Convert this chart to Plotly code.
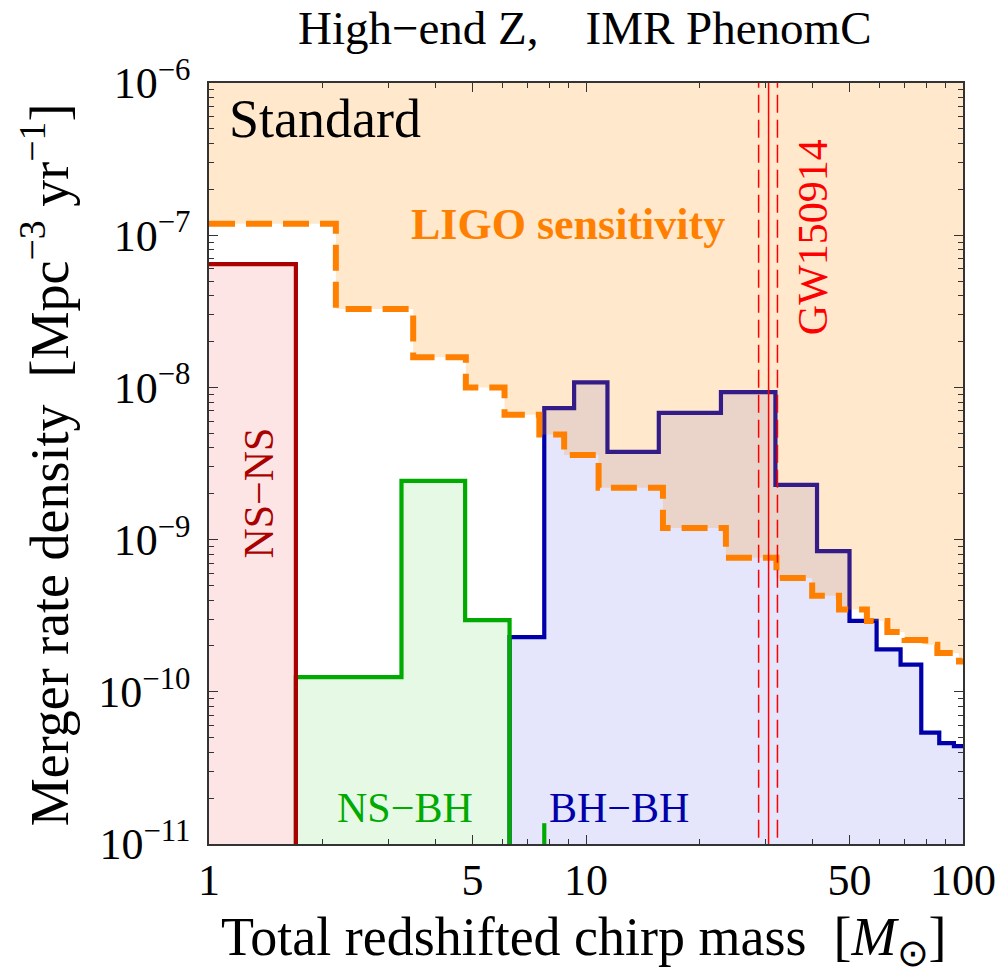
import plotly.graph_objects as go

# ---------------- data ----------------
nsns_edges = [1.0, 1.70]
nsns_values = [6.45e-8]

nsbh_edges = [1.70, 3.24, 4.78, 6.27]
nsbh_values = [1.25e-10, 2.43e-9, 2.96e-10]
nsbh_tail_edges = [7.75, 7.77]
nsbh_tail_values = [1.37e-11]

bbh_edges = [6.27, 7.75, 9.3, 11.4, 15.6, 22.8, 31.8, 41.0, 50.0, 59.0, 68.3, 77.5, 86.5, 94.6, 100.0]
bbh_values = [2.29e-10, 7.3e-9, 1.08e-8, 3.77e-9, 6.8e-9, 9.3e-9, 2.29e-9, 8.4e-10,
              2.92e-10, 1.9e-10, 1.51e-10, 5.4e-11, 4.6e-11, 4.4e-11]

ligo_edges = [1.0, 2.17, 3.48, 4.8, 6.08, 7.52, 8.75, 10.8, 16.0, 23.5, 32.0, 39.8, 46.9,
              55.6, 63.0, 70.0, 79.4, 85.5, 97.6, 100.0]
ligo_values = [1.19e-7, 3.27e-8, 1.58e-8, 1.0e-8, 6.6e-9, 4.9e-9, 3.6e-9, 2.19e-9, 1.19e-9,
               7.6e-10, 5.6e-10, 4.27e-10, 3.47e-10, 2.92e-10, 2.47e-10, 2.19e-10, 2.04e-10,
               1.8e-10, 1.58e-10]

gw_mass = 30.5
gw_mass_lo = 28.7
gw_mass_hi = 32.2

x_tickvals = [1, 5, 10, 50, 100]
x_ticktext = ["1", "5", "10", "50", "100"]
x_minor = [2, 3, 4, 6, 7, 8, 9, 20, 30, 40, 60, 70, 80, 90]
y_exps = [-6, -7, -8, -9, -10, -11]
y_tickvals = [10.0 ** e for e in y_exps]
y_ticktext = ["10<sup>\u2212%d</sup>" % (-e) for e in y_exps]
y_minor = [m * 10.0 ** e for e in range(-11, -6) for m in range(2, 10)]

YMIN, YMAX = 1e-11, 1e-6

# ---------------- helpers ----------------
def step_path(edges, values, start_bottom=True, end_bottom=True):
    xs, ys = [], []
    if start_bottom:
        xs.append(edges[0]); ys.append(YMIN)
    for i, v in enumerate(values):
        xs += [edges[i], edges[i + 1]]
        ys += [v, v]
    if end_bottom:
        xs.append(edges[-1]); ys.append(YMIN)
    return xs, ys

FONT = "Liberation Serif"

L, R, T, B = 209, 39, 83, 130
W, H = 1008, 974
PW, PH = W - L - R, H - T - B

def px(xp):
    return (xp - L) / PW

def py(yp):
    return (H - B - yp) / PH

fig = go.Figure()

# fills
for edges, values, col in [
    (bbh_edges, bbh_values, "rgba(0,0,220,0.10)"),
    (nsbh_edges, nsbh_values, "rgba(0,200,0,0.10)"),
    (nsns_edges, nsns_values, "rgba(240,0,0,0.10)"),
]:
    xs, ys = step_path(edges, values)
    fig.add_trace(go.Scatter(x=xs, y=ys, mode="lines", fill="toself", fillcolor=col,
                             line=dict(width=0), hoverinfo="skip", showlegend=False))

# outlines
xs, ys = step_path(bbh_edges, bbh_values, start_bottom=True, end_bottom=False)
fig.add_trace(go.Scatter(x=xs, y=ys, mode="lines", line=dict(color="#0000AA", width=4.2),
                         showlegend=False))
xs, ys = step_path(nsbh_edges, nsbh_values)
fig.add_trace(go.Scatter(x=xs, y=ys, mode="lines", line=dict(color="#00AA00", width=4.2),
                         showlegend=False))
fig.add_trace(go.Scatter(x=[nsbh_tail_edges[0], nsbh_tail_edges[0]], y=[YMIN, nsbh_tail_values[0]],
                         mode="lines", line=dict(color="#00AA00", width=4.2), showlegend=False))
xs, ys = step_path(nsns_edges, nsns_values, start_bottom=False, end_bottom=True)
fig.add_trace(go.Scatter(x=xs, y=ys, mode="lines", line=dict(color="#AA0000", width=4.2),
                         showlegend=False))

# LIGO sensitivity region
xs, ys = step_path(ligo_edges, ligo_values, start_bottom=False, end_bottom=False)
fig.add_trace(go.Scatter(x=xs + [ligo_edges[-1], ligo_edges[0]], y=ys + [YMAX, YMAX],
                         mode="lines", fill="toself", fillcolor="rgba(255,140,0,0.20)",
                         line=dict(width=0), hoverinfo="skip", showlegend=False))
fig.add_trace(go.Scatter(x=xs, y=ys, mode="lines",
                         line=dict(color="#FF8000", width=6, dash="26px,11px"),
                         showlegend=False))

# GW150914 lines
fig.add_trace(go.Scatter(x=[gw_mass, gw_mass], y=[YMIN, YMAX], mode="lines",
                         line=dict(color="#FF0000", width=1.5), showlegend=False))
for m in (gw_mass_lo, gw_mass_hi):
    fig.add_trace(go.Scatter(x=[m, m], y=[1.1e-11, YMAX], mode="lines",
                             line=dict(color="#FF0000", width=1.5, dash="18px,7px"),
                             showlegend=False))

# invisible trace attaching the minor-tick overlay axes
fig.add_trace(go.Scatter(x=[None], y=[None], xaxis="x2", yaxis="y2", mode="lines",
                         hoverinfo="skip", showlegend=False))

axis_common = dict(
    showline=True, linecolor="#333333", linewidth=1.5, mirror="allticks",
    ticks="inside", tickcolor="#333333",
    showgrid=False, zeroline=False, type="log",
    tickfont=dict(family=FONT, size=44, color="black"),
)

fig.update_layout(
    xaxis=dict(range=[0, 2], tickmode="array", tickvals=x_tickvals, ticktext=x_ticktext,
               ticklen=9, tickwidth=1.2, ticklabelstandoff=-4, **axis_common),
    yaxis=dict(range=[-11, -6], tickmode="array", tickvals=y_tickvals, ticktext=y_ticktext,
               ticklen=9, tickwidth=1.2, ticklabelstandoff=8, **axis_common),
    xaxis2=dict(range=[0, 2], overlaying="x", side="bottom", tickmode="array",
                tickvals=x_minor, ticklen=5, tickwidth=1, showticklabels=False,
                **axis_common),
    yaxis2=dict(range=[-11, -6], overlaying="y", side="left", tickmode="array",
                tickvals=y_minor, ticklen=5, tickwidth=1, showticklabels=False,
                **axis_common),
)

ann = []
def add_text(text, xp, yp, size, color="black", angle=0, xanchor="center", weight="normal"):
    ann.append(dict(text=text, x=px(xp), y=py(yp), xref="paper", yref="paper",
                    showarrow=False, textangle=angle, xanchor=xanchor, yanchor="middle",
                    font=dict(family=FONT, size=size, color=color, weight=weight)))

add_text("High\u2212end Z,\u2003IMR PhenomC", 588, 28, 47)
add_text("Standard", 227, 119, 54, xanchor="left")
add_text("LIGO sensitivity", 571, 224, 44, color="#FF8000", weight="bold")
add_text("GW150914", 818, 237, 42, color="#FF0000", angle=-90)
add_text("NS\u2212NS", 259, 493, 42, color="#AA0000", angle=-90)
add_text("NS\u2212BH", 407, 808, 42, color="#00AA00")
add_text("BH\u2212BH", 622, 808, 42, color="#0000AA")
add_text("Merger rate density  [Mpc<sup>\u22123</sup> yr<sup>\u22121</sup>]", 44, 465, 54, angle=-90)
add_text("Total redshifted chirp mass  [<i>M</i><sub>\u2299</sub>]", 587, 940, 54)

fig.update_layout(
    width=W, height=H,
    margin=dict(l=L, r=R, t=T, b=B, pad=0),
    paper_bgcolor="white", plot_bgcolor="white",
    showlegend=False,
    annotations=ann,
    font=dict(family=FONT),
)

fig.write_html("out.html")
